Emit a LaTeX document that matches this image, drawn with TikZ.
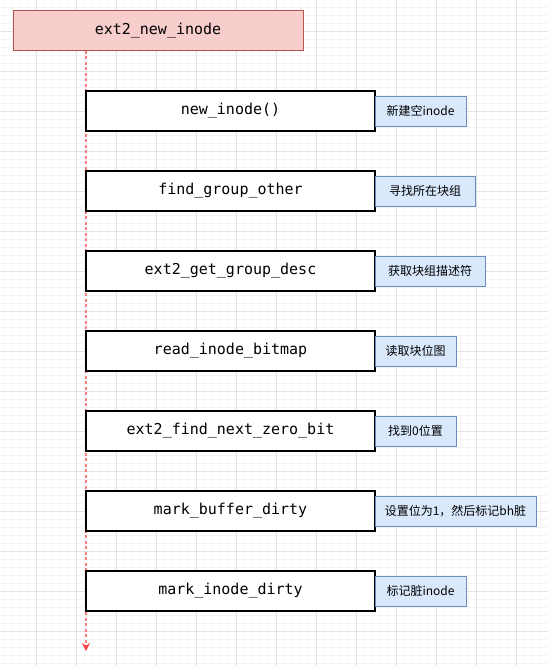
\documentclass[tikz,border=0pt]{standalone}
\usepackage{fontspec}
\setmonofont{DejaVu Sans Mono}
\newfontfamily\cjk{Noto Sans CJK SC}
\usetikzlibrary{positioning,arrows.meta,backgrounds}

\definecolor{titlefill}{HTML}{F8CECC}
\definecolor{titledraw}{HTML}{B85450}
\definecolor{notefill}{HTML}{DAE8FC}
\definecolor{notedraw}{HTML}{6C8EBF}
\definecolor{lifered}{HTML}{FF8080}
\definecolor{tipred}{HTML}{FF4444}
\definecolor{majorgrid}{HTML}{E2E2E2}
\definecolor{minorgrid}{HTML}{F4F4F4}

\begin{document}
\begin{tikzpicture}[x=1pt,y=-1pt,
  title/.style={draw=titledraw, fill=titlefill, line width=1pt, minimum width=290pt, minimum height=40pt,
    inner sep=0pt, outer sep=0pt, font=\fontsize{15}{18}\selectfont\ttfamily},
  func/.style={draw=black, fill=white, line width=1.2pt, minimum width=289pt, minimum height=40pt,
    inner sep=0pt, outer sep=0pt, font=\fontsize{15}{18}\selectfont\ttfamily},
  note/.style={draw=notedraw, fill=notefill, line width=0.9pt, minimum height=30pt,
    inner sep=0pt, outer sep=0pt, font=\fontsize{12}{14}\selectfont\cjk},
  lifeline/.style={draw=lifered, line width=1.6pt, dash pattern=on 3pt off 2.5pt,
    -{Stealth[length=8pt,width=8pt,color=tipred]}}]

  \useasboundingbox (0,0) rectangle (548,666);

  \node[title] (ext2_new_inode) at (158,31) {ext2\_new\_inode};

  \node[func, anchor=north west] (new_inode) at (86,91) {new\_inode()};
  \node[func, below=40pt of new_inode] (find_group_other) {find\_group\_other};
  \node[func, below=40pt of find_group_other] (get_group_desc) {ext2\_get\_group\_desc};
  \node[func, below=40pt of get_group_desc] (read_inode_bitmap) {read\_inode\_bitmap};
  \node[func, below=40pt of read_inode_bitmap] (find_next_zero_bit) {ext2\_find\_next\_zero\_bit};
  \node[func, below=40pt of find_next_zero_bit] (mark_buffer_dirty) {mark\_buffer\_dirty};
  \node[func, below=40pt of mark_buffer_dirty] (mark_inode_dirty) {mark\_inode\_dirty};

  \node[note, minimum width=91pt, right=0pt of new_inode] (n_new_inode) {新建空inode};
  \node[note, minimum width=100pt, right=0pt of find_group_other] (n_find_group) {寻找所在块组};
  \node[note, minimum width=110pt, right=0pt of get_group_desc] (n_group_desc) {获取块组描述符};
  \node[note, minimum width=81pt, right=0pt of read_inode_bitmap] (n_bitmap) {读取块位图};
  \node[note, minimum width=81pt, right=0pt of find_next_zero_bit] (n_zero_bit) {找到0位置};
  \node[note, minimum width=161pt, right=0pt of mark_buffer_dirty] (n_buffer_dirty) {设置位为1，然后标记bh脏};
  \node[note, minimum width=91pt, right=0pt of mark_inode_dirty] (n_inode_dirty) {标记脏inode};

  \coordinate (life_top) at (ext2_new_inode.south -| new_inode.west);
  \coordinate[below=40pt of mark_inode_dirty.south west] (life_end);

  \begin{scope}[on background layer]
    % grid of the canvas
    \fill[white] (0,0) rectangle (548,666);
    \foreach \gx in {4,12,...,548} \draw[minorgrid, line width=0.8pt] (\gx,0) -- (\gx,666);
    \foreach \gy in {7,15,...,666} \draw[minorgrid, line width=0.8pt] (0,\gy) -- (548,\gy);
    \foreach \gx in {36,76,...,548} \draw[majorgrid, line width=0.9pt] (\gx,0) -- (\gx,666);
    \foreach \gy in {31,71,...,666} \draw[majorgrid, line width=0.9pt] (0,\gy) -- (548,\gy);

    \draw[lifeline] (life_top) -- (life_end);
  \end{scope}

\end{tikzpicture}
\end{document}
